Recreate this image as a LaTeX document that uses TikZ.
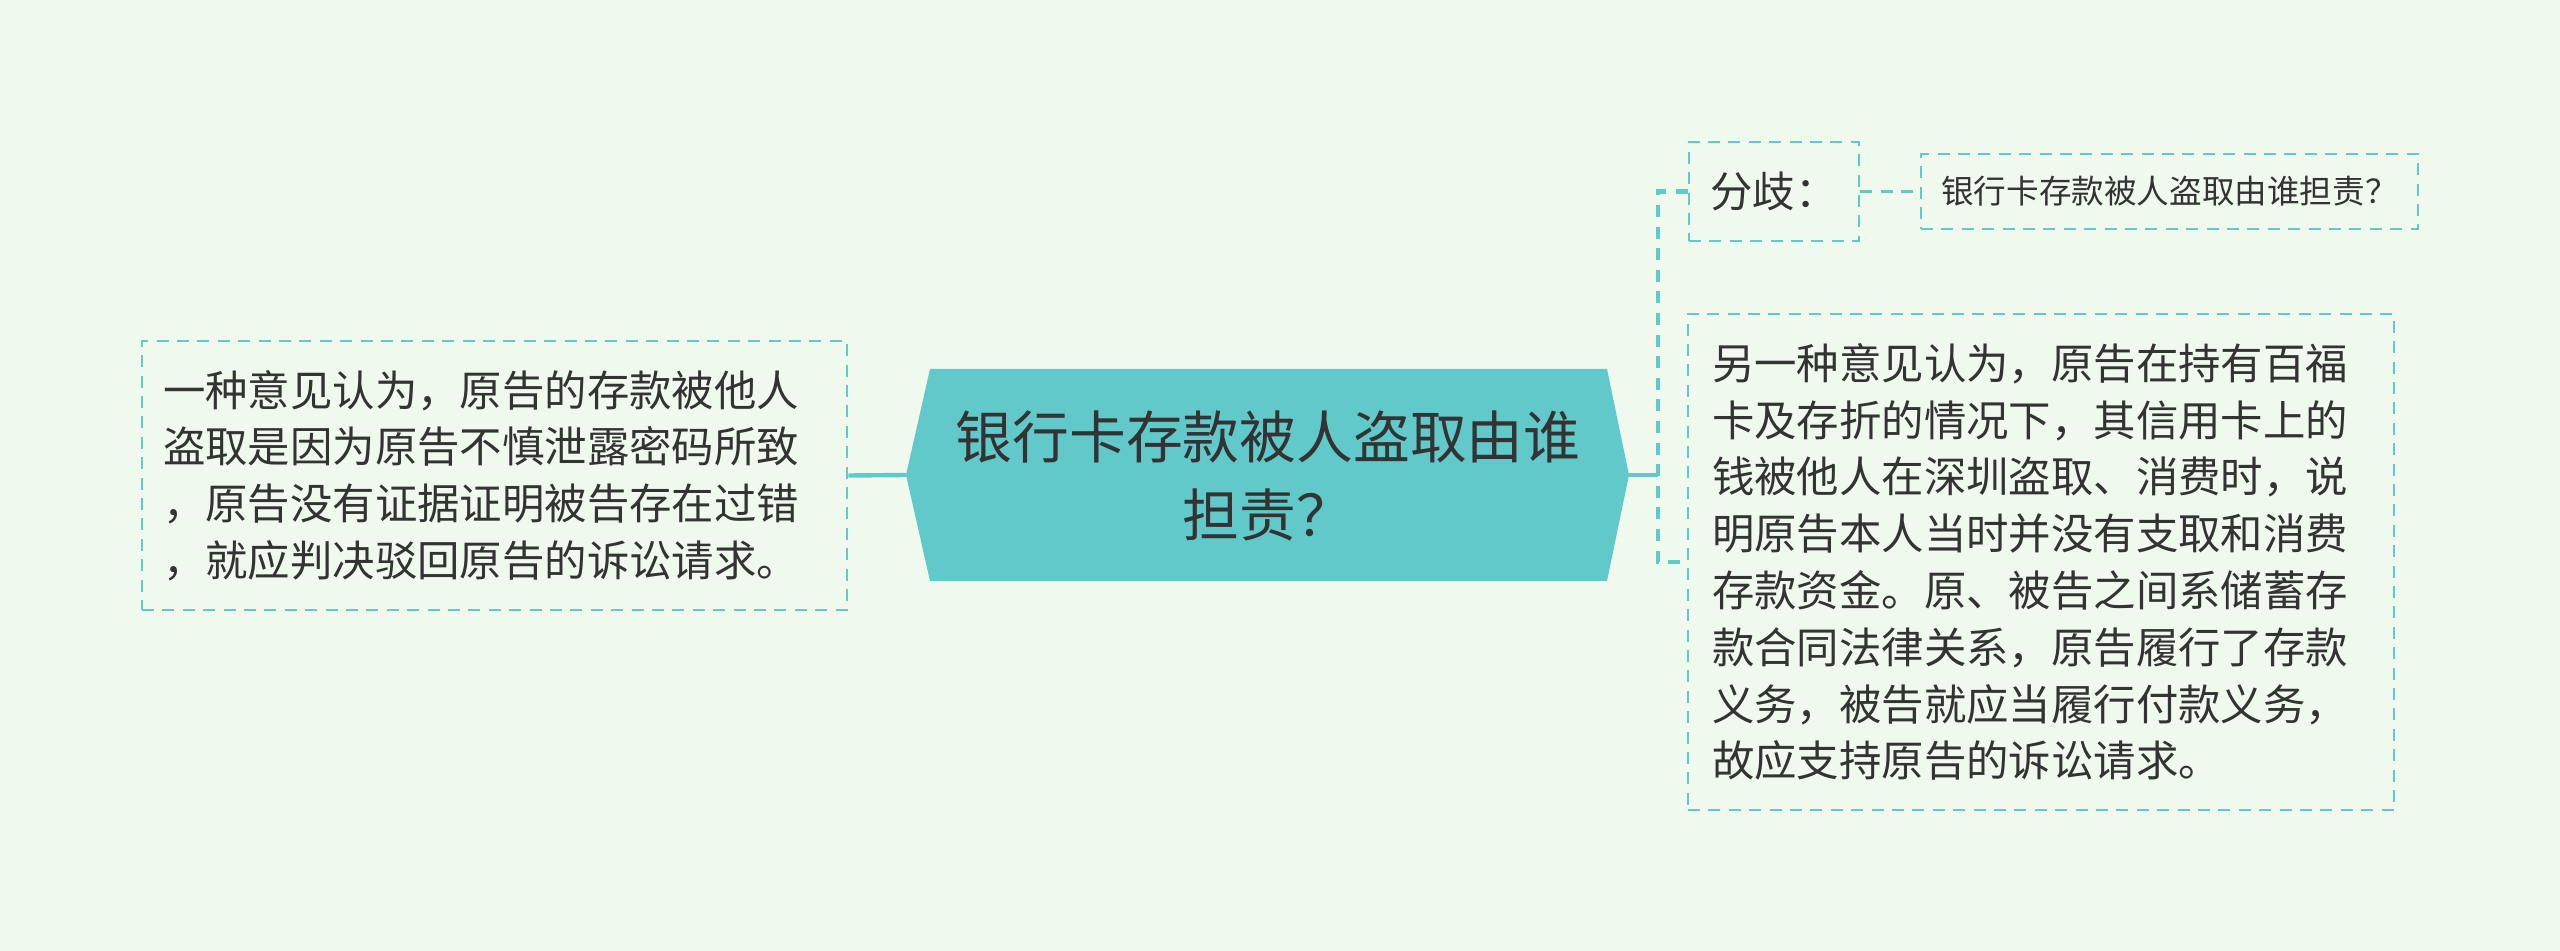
\documentclass[tikz,border=0pt]{standalone}
\usepackage{fontspec}
\setmainfont{Noto Sans CJK SC}
\definecolor{bgmint}{HTML}{F0F9EE}
\definecolor{mapteal}{HTML}{62C9CB}
\definecolor{inkgrey}{HTML}{333333}
\begin{document}
\begin{tikzpicture}[x=0.25pt,y=-0.25pt,
    box/.style={draw=mapteal,line width=0.7pt,dash pattern=on 3pt off 2.1pt,
        text=inkgrey,inner ysep=0pt},
    bodytext/.style={font={\fontsize{10.6pt}{14.2pt}\selectfont},align=left},
    link/.style={draw=mapteal,line width=1.1pt},
    trunk/.style={draw=mapteal,line width=1.2pt,dash pattern=on 3pt off 2.4pt},
    thinlink/.style={draw=mapteal,line width=0.7pt,dash pattern=on 3pt off 2.1pt}]
    \useasboundingbox (0,0) rectangle (2560,951);
    \fill[bgmint] (0,0) rectangle (2560,951);
    \coordinate (hexL) at (906,475);
    \coordinate (hexR) at (1629,475);
    \coordinate (hub) at (1658,475);
    \fill[mapteal] (hexL) -- (930,369) -- (1607,369) -- (hexR) -- (1607,581) -- (930,581) -- cycle;
    \node[text=inkgrey,align=center,font={\fontsize{14.2pt}{19.7pt}\selectfont}] (topic) at (1268,476)
        {银行卡存款被人盗取由谁\\担责？};
    \node[box,bodytext,text width=165.75pt,inner xsep=5.25pt,minimum height=67.25pt] (opinion1) at (494.5,475.5)
        {一种意见认为，原告的存款被他人\\盗取是因为原告不慎泄露密码所致\\，原告没有证据证明被告存在过错\\，就应判决驳回原告的诉讼请求。};
    \node[box,font={\fontsize{10.6pt}{14.2pt}\selectfont},minimum width=42.5pt,minimum height=24.75pt,inner xsep=0pt] (fenqi) at (1774,191.5)
        {分歧：};
    \node[box,font={\fontsize{8.15pt}{10pt}\selectfont},minimum width=124.25pt,minimum height=18.75pt,inner xsep=0pt] (question) at (2169.5,191.5)
        {银行卡存款被人盗取由谁担责？};
    \node[box,bodytext,text width=164.5pt,inner xsep=6pt,minimum height=124pt] (opinion2) at (2041,562)
        {另一种意见认为，原告在持有百福\\卡及存折的情况下，其信用卡上的\\钱被他人在深圳盗取、消费时，说\\明原告本人当时并没有支取和消费\\存款资金。原、被告之间系储蓄存\\款合同法律关系，原告履行了存款\\义务，被告就应当履行付款义务，\\故应支持原告的诉讼请求。};
    \draw[link] (hexL) -- (opinion1.east);
    \draw[link] (hexR) -- (hub);
    \draw[trunk] (fenqi.west) -| (hub) |- (opinion2.west);
    \draw[thinlink] (fenqi.east) -- (question.west);
\end{tikzpicture}
\end{document}
